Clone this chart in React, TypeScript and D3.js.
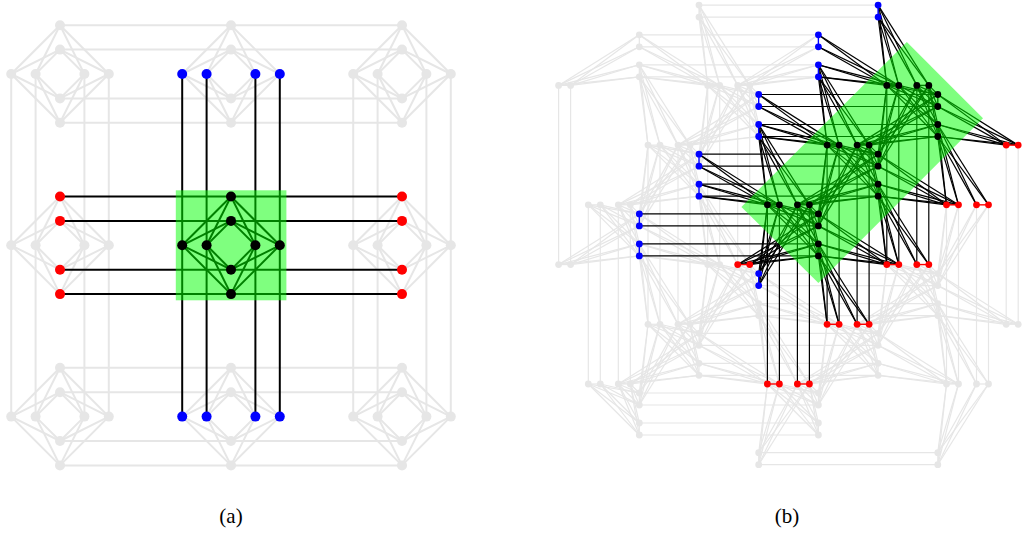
import React from "react";
import * as d3 from "d3";

// ---- data: abstract index lists only ----
const panelACells = [0, 1, 2];
const slotsA = [-2, -1, 1, 2];
const slotsB = [-2, -1, 1, 2];
const rowLevels = [0, 1, 2, 3, 4, 5];
const aValuesByRowClass = [
  [0, 3, 6],
  [1, 4, -2],
  [2, 5, -1],
];
const highlightIndex = [0, 1, 2];
const captions = ["(a)", "(b)"];

const GREY = "#e6e6e6";
const GREEN = "rgb(0,255,0)";

// ---- panel (a) scales ----
const cellX = d3.scaleLinear().domain([0, 2]).range([60, 402]);
const cellY = d3.scaleLinear().domain([0, 2]).range([74, 416.6]);
const offA = d3.scaleLinear().domain([-2, 2]).range([-48.8, 48.8]);

type NA = { id: string; x: number; y: number; kind: "R" | "C"; i: number; j: number; s: number };
const nodesA: NA[] = [];
panelACells.forEach((i) =>
  panelACells.forEach((j) =>
    slotsA.forEach((s) => {
      nodesA.push({ id: `R${i}${j}${s}`, kind: "R", i, j, s, x: cellX(i) + offA(s), y: cellY(j) });
      nodesA.push({ id: `C${i}${j}${s}`, kind: "C", i, j, s, x: cellX(i), y: cellY(j) + offA(s) });
    })
  )
);
type EA = { a: NA; b: NA };
const edgesA: EA[] = [];
nodesA.forEach((a) =>
  nodesA.forEach((b) => {
    if (a.kind === "R" && b.kind === "C" && a.i === b.i && a.j === b.j) edgesA.push({ a, b });
    if (a.kind === "R" && b.kind === "R" && a.i === b.i && a.s === b.s && b.j === a.j + 1) edgesA.push({ a, b });
    if (a.kind === "C" && b.kind === "C" && a.j === b.j && a.s === b.s && b.i === a.i + 1) edgesA.push({ a, b });
  })
);
const isBlackA = (n: NA) => n.i === 1 && n.j === 1;
const blackEdgeA = (e: EA) => isBlackA(e.a) || isBlackA(e.b);
const colourA = (n: NA) => {
  if (isBlackA(n)) return "#000";
  if (n.kind === "R" && n.i === 1) return "#0000ff";
  if (n.kind === "C" && n.j === 1) return "#ff0000";
  return GREY;
};
const rectA = { x: cellX(1) - 55.2, y: cellY(1) - 55, w: 110.6, h: 110 };

// ---- panel (b) scales ----
const xR = d3.scaleLinear().domain([0, 6]).range([907.8, 549.6]);
const yR = d3.scaleLinear().domain([0, 5]).range([85.4, 384]);
const xC = d3.scaleLinear().domain([0, 5]).range([937.8, 639.3]);
const yC = d3.scaleLinear().domain([0, 6]).range([115.5, 473.7]);
const offB = d3.scaleLinear().domain([-2, -1, 1, 2]).range([-21, -9, 9, 21]);

type NB = { id: string; kind: "R" | "C"; u: number; v: number; s: number; x: number; y: number };
const nodesB: NB[] = [];
rowLevels.forEach((c) =>
  aValuesByRowClass[c % 3].forEach((a) =>
    slotsB.forEach((s) => {
      if (a === 6 && s < 0) return;
      if (a === -2 && s > 0) return;
      nodesB.push({ id: `R${a}_${c}_${s}`, kind: "R", u: a, v: c, s, x: xR(a) + offB(s), y: yR(c) });
    })
  )
);
rowLevels.forEach((d) =>
  aValuesByRowClass[d % 3].forEach((b) =>
    slotsB.forEach((s) => {
      if (b === 6 && s > 0) return;
      if (b === -2 && s < 0) return;
      nodesB.push({ id: `C${d}_${b}_${s}`, kind: "C", u: d, v: b, s, x: xC(d), y: yC(b) + offB(s) });
    })
  )
);
const Rs = nodesB.filter((n) => n.kind === "R");
const Cs = nodesB.filter((n) => n.kind === "C");
type EB = { a: NB; b: NB };
const edgesB: EB[] = [];
const pairEdgesB: EB[] = [];
Rs.forEach((r) =>
  Cs.forEach((k) => {
    const e = k.u - r.u;
    const f = k.v - r.v;
    if (e === 0 && f === 0) edgesB.push({ a: r, b: k });
    else if (e === 2 && f === -1 && r.s < 0) edgesB.push({ a: r, b: k });
    else if (e === 1 && f === -2 && k.s > 0) edgesB.push({ a: r, b: k });
    else if (e === -1 && f === -1 && r.s > 0) edgesB.push({ a: r, b: k });
    else if (e === 1 && f === 1 && k.s < 0) edgesB.push({ a: r, b: k });
  })
);
Rs.forEach((r) =>
  Rs.forEach((q) => {
    if (r.u === q.u && q.v === r.v + 3 && r.s === q.s) edgesB.push({ a: r, b: q });
    if (r.u === q.u && r.v === q.v && Math.abs(r.s) === Math.abs(q.s) + 1 && Math.sign(r.s) === Math.sign(q.s))
      pairEdgesB.push({ a: r, b: q });
  })
);
Cs.forEach((r) =>
  Cs.forEach((q) => {
    if (r.v === q.v && q.u === r.u + 3 && r.s === q.s) edgesB.push({ a: r, b: q });
    if (r.u === q.u && r.v === q.v && Math.abs(r.s) === Math.abs(q.s) + 1 && Math.sign(r.s) === Math.sign(q.s))
      pairEdgesB.push({ a: r, b: q });
  })
);
const isBlackB = (n: NB) => highlightIndex.includes(n.u) && n.u === n.v;
const blackEdgeB = (e: EB) => isBlackB(e.a) || isBlackB(e.b);
const neighbours = new Set<string>();
edgesB.filter(blackEdgeB).forEach((e) => {
  neighbours.add(e.a.id);
  neighbours.add(e.b.id);
});
const colourB = (n: NB) => {
  if (isBlackB(n)) return "#000";
  if (!neighbours.has(n.id)) return GREY;
  return n.kind === "R" ? "#ff0000" : "#0000ff";
};
const bandPoints: [number, number][] = [
  [xR(0) - 1, yC(0) - 73.5],
  [xR(0) + 75.2, yC(0) + 2.8],
  [xC(2), yC(2) + 48],
  [xR(2) - 47, yC(2) - 28],
];
const bandPath = d3.line()(bandPoints) + "Z";

const seg = (e: { a: { x: number; y: number }; b: { x: number; y: number } }) => ({
  x1: e.a.x,
  y1: e.a.y,
  x2: e.b.x,
  y2: e.b.y,
});

export default function App() {
  const greyA = edgesA.filter((e) => !blackEdgeA(e));
  const darkA = edgesA.filter(blackEdgeA);
  const greyB = edgesB.filter((e) => !blackEdgeB(e));
  const darkB = edgesB.filter(blackEdgeB);
  return (
    <svg
      width={1027}
      height={535}
      viewBox="0 0 1027 535"
      style={{ position: "absolute", left: 0, top: 0, background: "#fff" }}
    >
      <g>
        {greyA.map((e, i) => (
          <line key={i} {...seg(e)} stroke={GREY} strokeWidth={2} />
        ))}
        {nodesA.filter((n) => colourA(n) === GREY).map((n) => (
          <circle key={n.id} cx={n.x} cy={n.y} r={5} fill={GREY} />
        ))}
        {darkA.map((e, i) => (
          <line key={i} {...seg(e)} stroke="#000" strokeWidth={2} />
        ))}
        <rect x={rectA.x} y={rectA.y} width={rectA.w} height={rectA.h} fill={GREEN} fillOpacity={0.5} />
        {nodesA.filter((n) => colourA(n) !== GREY).map((n) => (
          <circle key={n.id} cx={n.x} cy={n.y} r={5} fill={colourA(n)} />
        ))}
      </g>
      <g>
        {greyB.map((e, i) => (
          <line key={i} {...seg(e)} stroke={GREY} strokeWidth={1.2} />
        ))}
        {pairEdgesB.filter((e) => colourB(e.a) === GREY).map((e, i) => (
          <line key={i} {...seg(e)} stroke={GREY} strokeWidth={1.2} />
        ))}
        {nodesB.filter((n) => colourB(n) === GREY).map((n) => (
          <circle key={n.id} cx={n.x} cy={n.y} r={3.4} fill={GREY} />
        ))}
        {darkB.map((e, i) => (
          <line key={i} {...seg(e)} stroke="#000" strokeWidth={1.2} />
        ))}
        {pairEdgesB.filter((e) => colourB(e.a) !== GREY).map((e, i) => (
          <line key={i} {...seg(e)} stroke={colourB(e.a)} strokeWidth={1.4} />
        ))}
        <path d={bandPath} fill={GREEN} fillOpacity={0.5} />
        {nodesB.filter((n) => colourB(n) !== GREY).map((n) => (
          <circle key={n.id} cx={n.x} cy={n.y} r={3.4} fill={colourB(n)} />
        ))}
      </g>
      <text x={231} y={523} textAnchor="middle" fontFamily="'Liberation Serif', serif" fontSize={21}>
        {captions[0]}
      </text>
      <text x={787} y={523} textAnchor="middle" fontFamily="'Liberation Serif', serif" fontSize={21}>
        {captions[1]}
      </text>
    </svg>
  );
}
